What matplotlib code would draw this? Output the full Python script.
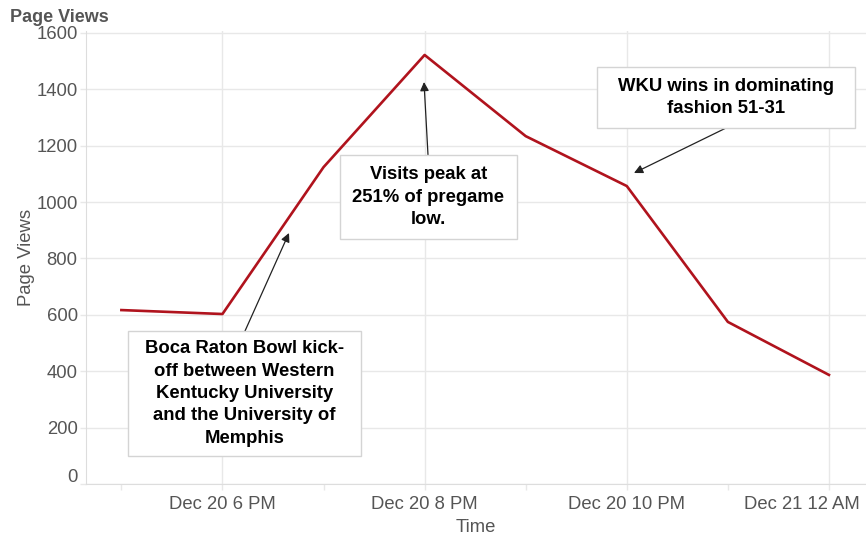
import datetime as dt
import matplotlib
matplotlib.use("Agg")
import matplotlib.pyplot as plt
import matplotlib.dates as mdates
import matplotlib.transforms as mtransforms
from matplotlib.patches import Rectangle

# hourly page views around the Boca Raton Bowl
hours = [dt.datetime(2014, 12, 20, 17) + dt.timedelta(hours=i) for i in range(8)]
page_views = [617, 603, 1124, 1522, 1234, 1057, 575, 387]

tick_times = [dt.datetime(2014, 12, 20, 18), dt.datetime(2014, 12, 20, 20),
              dt.datetime(2014, 12, 20, 22), dt.datetime(2014, 12, 21, 0)]
tick_labels = ["Dec 20 6 PM", "Dec 20 8 PM", "Dec 20 10 PM", "Dec 21 12 AM"]
y_ticks = [0, 200, 400, 600, 800, 1000, 1200, 1400, 1600]

note_texts = [
    "Boca Raton Bowl kick-\noff between Western\nKentucky University\nand the University of\nMemphis",
    "Visits peak at\n251% of pregame\nlow.",
    "WKU wins in dominating\nfashion 51-31",
]
# box (left, top, right, bottom) and arrow (start, end), in pixels from top-left
note_boxes = [(128, 331, 361, 456), (340, 155, 517, 239), (597, 67, 855, 128)]
note_arrows = [((245, 331), (289, 233)), ((428, 155), (424, 82)), ((726, 128), (634, 173))]

plt.rcParams['font.family'] = ['Liberation Sans', 'DejaVu Sans']
grey = '#555555'
grid_c = '#e8e8e8'

W, H = 866, 536
fig = plt.figure(figsize=(W / 100, H / 100), dpi=100)
ax = fig.add_axes([86 / W, 1 - 484 / H, (W - 86) / W, (484 - 31) / H])

ax.plot(hours, page_views, color='#b0131d', linewidth=1.9, zorder=3)

ax.set_xlim(dt.datetime(2014, 12, 20, 16, 39), dt.datetime(2014, 12, 21, 0, 22))
ax.set_ylim(0, 1607)

ax.set_xticks(tick_times)
ax.set_xticklabels(tick_labels)
ax.xaxis.set_minor_locator(mdates.HourLocator(byhour=[17, 19, 21, 23]))
ax.set_yticks(y_ticks)
ax.tick_params(axis='both', which='both', colors=grid_c, labelcolor=grey,
               labelsize=13.3, length=4, width=1)
ax.tick_params(axis='x', pad=4.5)
ax.tick_params(axis='y', pad=2)

# keep the edge labels inside the frame
last = ax.get_xticklabels()[-1]
last.set_transform(last.get_transform() + mtransforms.ScaledTranslation(-0.27, 0, fig.dpi_scale_trans))
zero = ax.get_yticklabels()[0]
zero.set_transform(zero.get_transform() + mtransforms.ScaledTranslation(0, 0.09, fig.dpi_scale_trans))

ax.grid(True, which='major', color=grid_c, linewidth=1, zorder=0)
for s in ['top', 'right']:
    ax.spines[s].set_visible(False)
for s in ['left', 'bottom']:
    ax.spines[s].set_color('#dddddd')

ax.set_xlabel("Time", fontsize=13.3, color=grey, labelpad=4.5)
ax.set_ylabel("Page Views", fontsize=13.3, color=grey, labelpad=1)
fig.text(10 / W, 1 - 18 / H, "Page Views", fontsize=13, fontweight='bold',
         color=grey, va='center', ha='left')

# annotation boxes, text and arrows
for text, (l, t, r, b), (start, end) in zip(note_texts, note_boxes, note_arrows):
    fig.add_artist(Rectangle((l / W, 1 - b / H), (r - l) / W, (b - t) / H,
                             transform=fig.transFigure, fc='white', ec='#d4d4d4',
                             lw=1, zorder=5))
    fig.text((l + r) / 2 / W, 1 - (t + b) / 2 / H, text, ha='center', va='center',
             fontsize=13.3, fontweight='bold', color='black', linespacing=1.42,
             zorder=6)
    ax.annotate('', xy=(end[0], H - end[1]), xycoords='figure pixels',
                xytext=(start[0], H - start[1]), textcoords='figure pixels',
                arrowprops=dict(arrowstyle='-|>', color='#222222', lw=0.9,
                                mutation_scale=13, shrinkA=0, shrinkB=0),
                zorder=6)

fig.savefig("out.png", dpi=100)
